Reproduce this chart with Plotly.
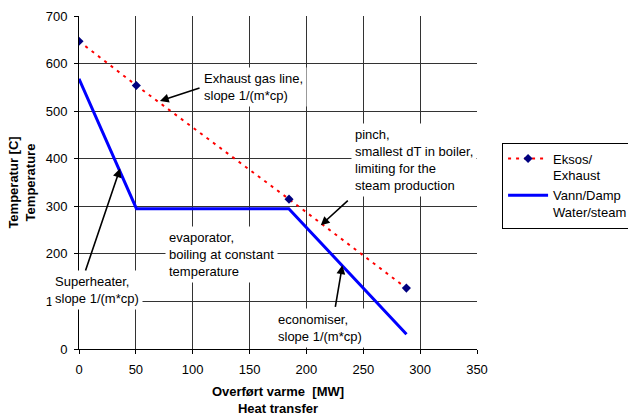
import plotly.graph_objects as go

# ---- data ----
exhaust_x = [0, 50.4, 184.7, 287.9]
exhaust_y = [647, 554, 315, 128]
water_x = [0, 50.5, 184.5, 288]
water_y = [568, 295, 295, 31]

x_ticks = [0, 50, 100, 150, 200, 250, 300, 350]
y_ticks = [0, 100, 200, 300, 400, 500, 600, 700]

FONT = "Liberation Sans, Arial, sans-serif"

fig = go.Figure()
fig.add_trace(go.Scatter(
    x=exhaust_x, y=exhaust_y, mode="lines+markers",
    name="Eksos/<br>Exhaust",
    line=dict(color="#ff0000", width=2, dash="3px,5px"),
    marker=dict(symbol="diamond", color="#000080", size=7),
))
fig.add_trace(go.Scatter(
    x=water_x, y=water_y, mode="lines",
    name="Vann/Damp<br>Water/steam",
    line=dict(color="#0000ff", width=3),
))

# text labels (white background, left aligned); x given in x-axis units, placed on paper
labels = [
    ("Exhaust gas line,<br>slope 1/(m*cp)", 106.5, 551),
    ("pinch,<br>smallest dT in boiler,<br>limiting for the<br>steam production", 239, 397),
    ("evaporator,<br>boiling at constant<br>temperature", 75.8, 199),
    ("Superheater,<br>slope 1/(m*cp)", -25, 124),
    ("economiser,<br>slope 1/(m*cp)", 171.5, 44),
]
for txt, lx, ly in labels:
    fig.add_annotation(
        x=lx / 350, y=ly, xref="paper", yref="y", text=txt, showarrow=False,
        xanchor="left", yanchor="middle", align="left",
        bgcolor="white", borderpad=3,
        font=dict(family=FONT, size=13, color="#000000"),
    )

# arrows (tail -> head) in data coordinates
arrows = [
    ((107.3, 549.5), (71.2, 521.3)),
    ((237.7, 314.7), (212.6, 260)),
    ((5.3, 161.9), (36.1, 379.2)),
    ((225.2, 85.6), (231.6, 176)),
]
for (tx, ty), (hx, hy) in arrows:
    fig.add_annotation(
        x=hx, y=hy, ax=tx, ay=ty, xref="x", yref="y", axref="x", ayref="y",
        text="", showarrow=True, arrowhead=2, arrowsize=1.1, arrowwidth=1.6,
        arrowcolor="#000000",
    )

fig.update_layout(
    width=628, height=416,
    margin=dict(l=79, r=151, t=16, b=67, autoexpand=False),
    paper_bgcolor="white", plot_bgcolor="white",
    font=dict(family=FONT, size=13, color="#000000"),
    legend=dict(
        x=1.063, y=0.62, xanchor="left", yanchor="top",
        bordercolor="#000000", borderwidth=1, bgcolor="white",
        font=dict(family=FONT, size=13, color="#000000"),
        valign="top", itemwidth=40, tracegroupgap=0,
    ),
    xaxis=dict(
        range=[0, 350], tickvals=x_ticks, ticktext=[str(v) for v in x_ticks],
        showgrid=True, gridcolor="#333333", gridwidth=1,
        zeroline=False, showline=True, linecolor="#000000", linewidth=1,
        ticks="outside", ticklen=4, tickcolor="#000000",
        ticklabelstandoff=4,
        title=dict(text="<b>Overført varme  [MW]<br>Heat transfer</b>",
                   font=dict(family=FONT, size=13), standoff=16),
    ),
    yaxis=dict(
        range=[0, 700], tickvals=y_ticks, ticktext=[str(v) for v in y_ticks],
        showgrid=True, gridcolor="#333333", gridwidth=1,
        zeroline=False, showline=True, linecolor="#000000", linewidth=1,
        ticks="outside", ticklen=4, tickcolor="#000000",
        ticklabelstandoff=4,
        title=dict(text="<b>Temperatur [C]<br>Temperature</b>",
                   font=dict(family=FONT, size=13), standoff=7),
    ),
    showlegend=True,
)

fig.write_html("out.html")
